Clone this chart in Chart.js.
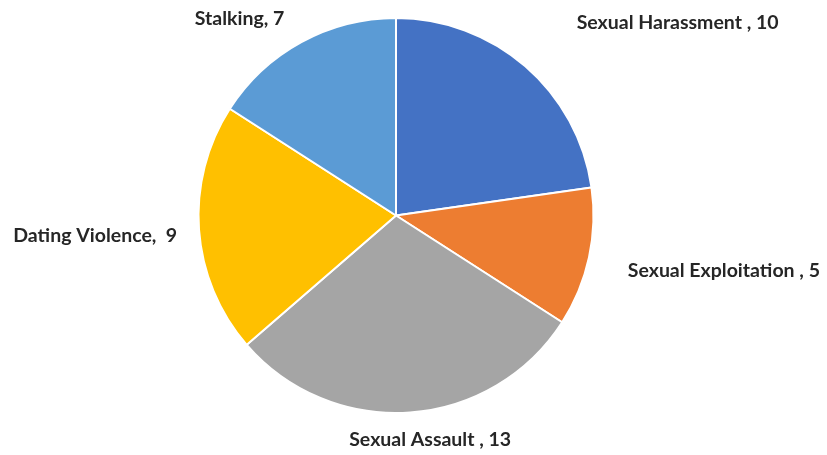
<!DOCTYPE html>
<html><head><meta charset="utf-8">
<script src="https://cdn.jsdelivr.net/npm/chart.js@4"></script>
<style>html,body{margin:0;padding:0;background:#fff}#wrap{width:827px;height:455px}</style>
</head><body><div id="wrap"><canvas id="c"></canvas></div>
<script>
const categories = ["Sexual Harassment", "Sexual Exploitation", "Sexual Assault", "Dating Violence", "Stalking"];
const values = [10, 5, 13, 9, 7];
const labelTexts = ["Sexual Harassment , 10", "Sexual Exploitation , 5", "Sexual Assault , 13", "Dating Violence,  9", "Stalking, 7"];
const colors = ["#4472C4", "#ED7D31", "#A5A5A5", "#FFC000", "#5B9BD5"];
// label offsets relative to pie centre, in units of radius
const labelOffsets = [[1.426, -0.975], [1.660, 0.279], [0.173, 1.137], [-1.523, 0.102], [-0.792, -0.995]];

const labelPlugin = {
  id: 'outLabels',
  afterDraw(chart) {
    const ctx = chart.ctx;
    const arc = chart.getDatasetMeta(0).data[0];
    const cx = arc.x, cy = arc.y, r = arc.outerRadius;
    ctx.save();
    ctx.font = 'bold 19.5px Lato, "Open Sans", sans-serif';
    ctx.fillStyle = '#262626';
    ctx.textAlign = 'center';
    ctx.textBaseline = 'middle';
    labelTexts.forEach((t, i) => {
      ctx.fillText(t, cx + labelOffsets[i][0] * r, cy + labelOffsets[i][1] * r);
    });
    ctx.restore();
  }
};

new Chart(document.getElementById('c'), {
  type: 'pie',
  data: {
    labels: categories,
    datasets: [{ data: values, backgroundColor: colors, borderColor: '#ffffff', borderWidth: 2 }]
  },
  options: {
    responsive: true,
    maintainAspectRatio: false,
    animation: false,
    layout: { padding: { top: 17, bottom: 41, left: 0, right: 35 } },
    plugins: { legend: { display: false }, tooltip: { enabled: false } }
  },
  plugins: [labelPlugin]
});
</script></body></html>
